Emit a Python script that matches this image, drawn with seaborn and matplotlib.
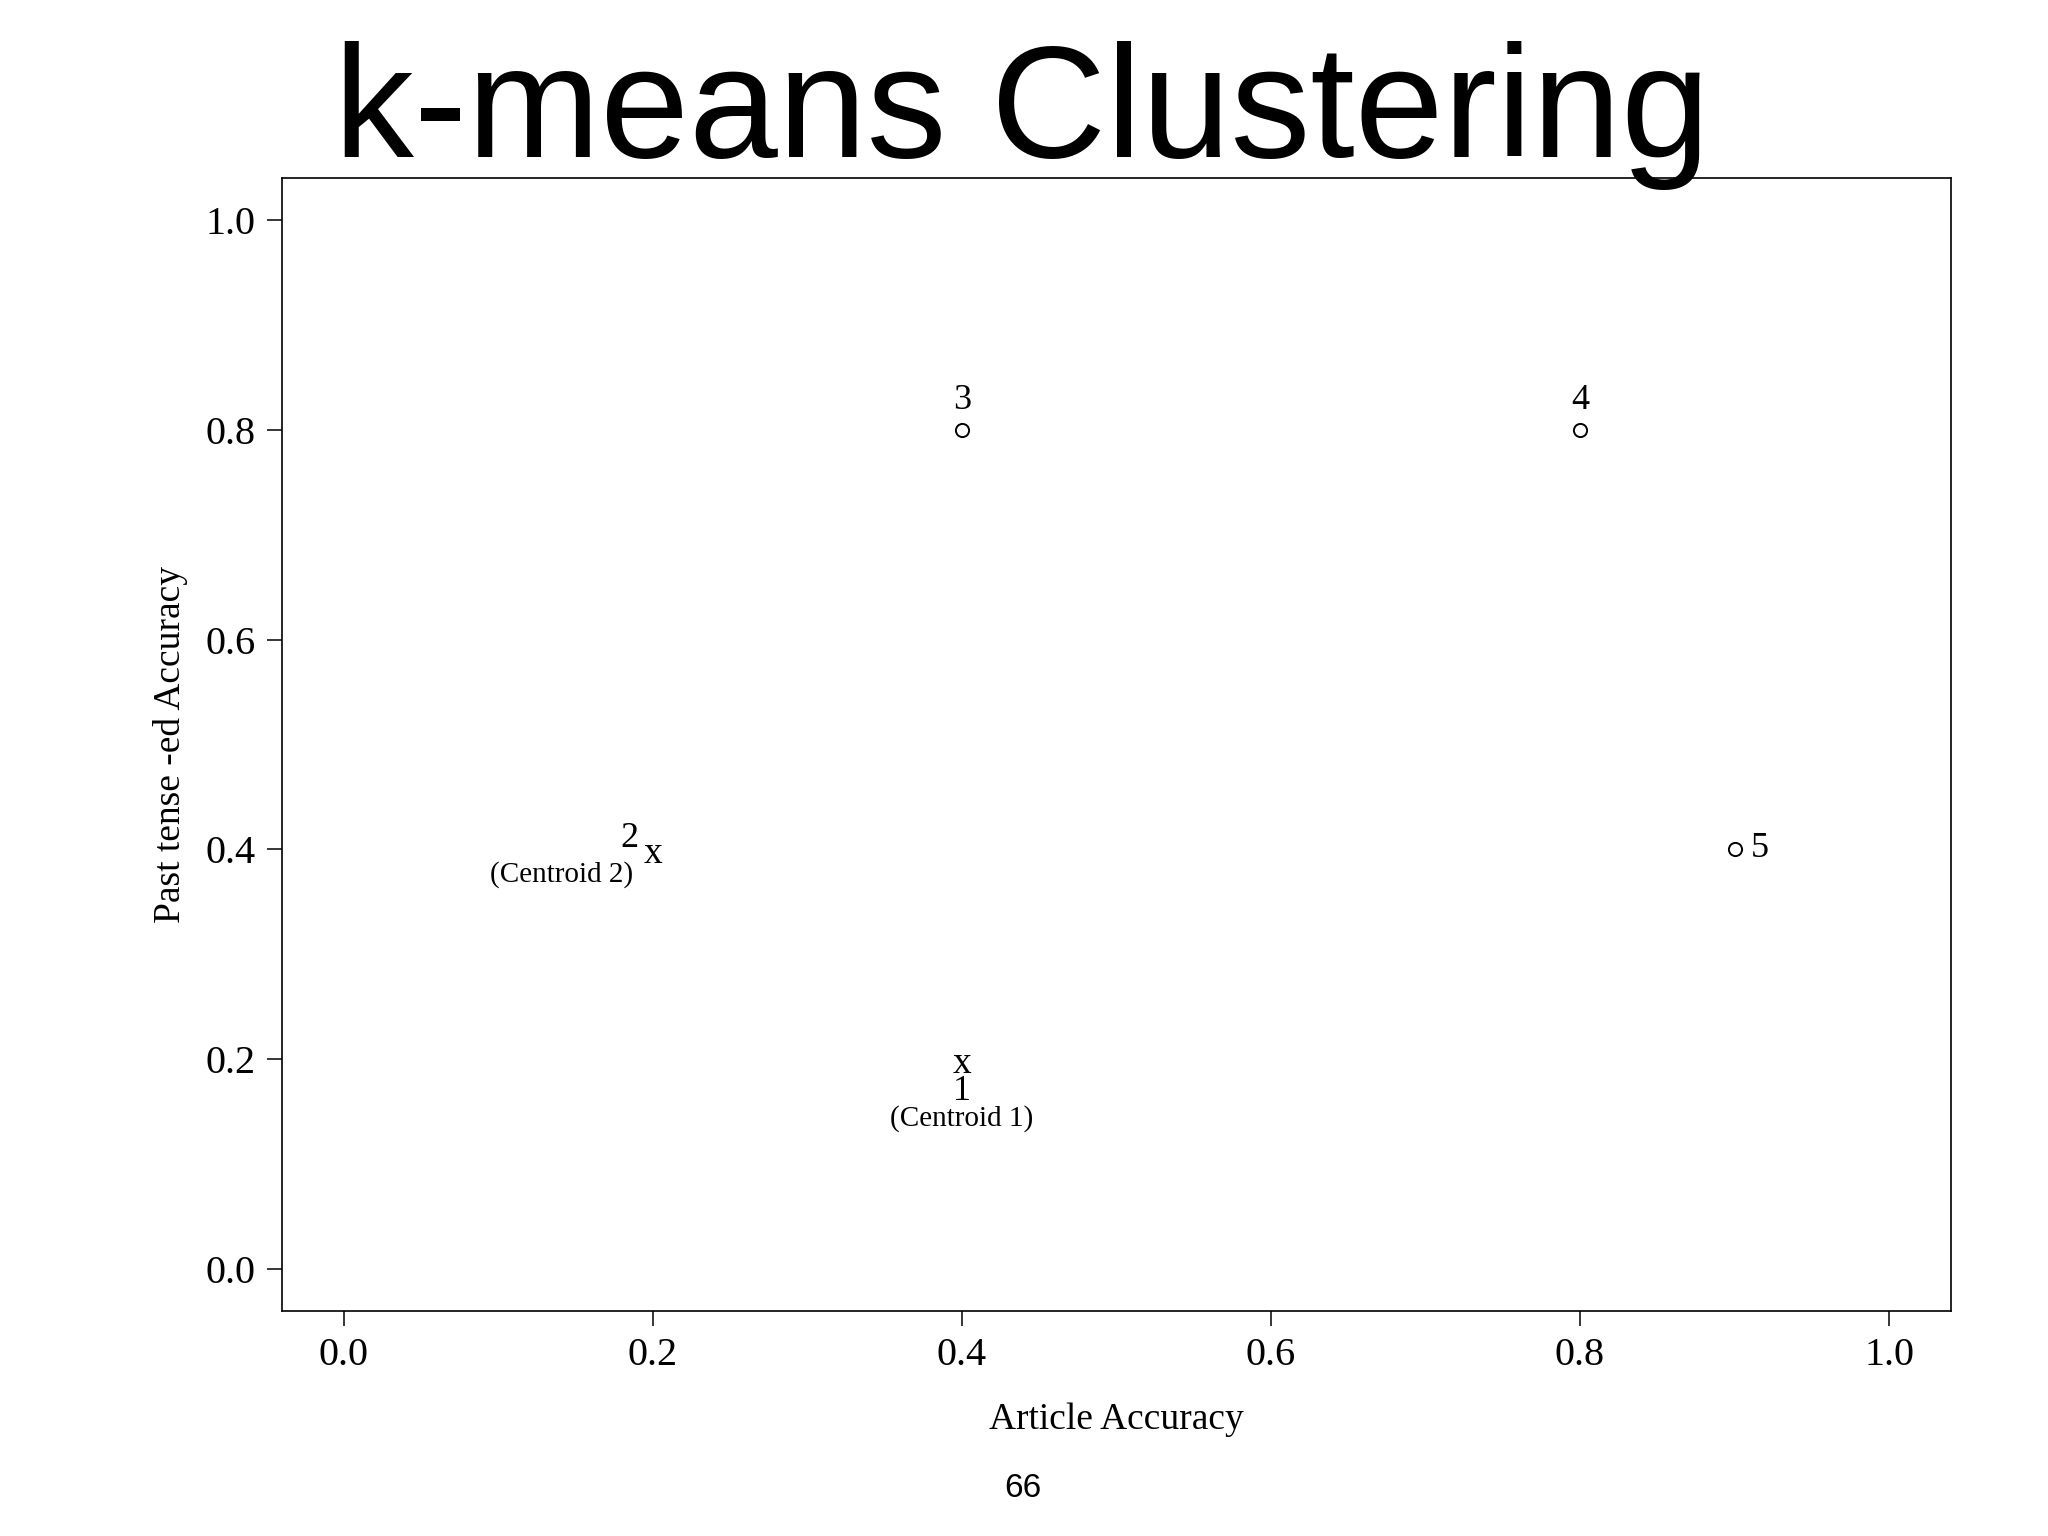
import matplotlib
matplotlib.use('Agg')
import matplotlib.pyplot as plt
import seaborn as sns

# data points (only 3, 4, 5 show an open circle; 1 and 2 sit under the centroids)
point_labels = ['1', '2', '3', '4', '5']
point_x = [0.4, 0.2, 0.4, 0.8, 0.9]
point_y = [0.2, 0.4, 0.8, 0.8, 0.4]
point_shown = [False, False, True, True, True]

centroid_labels = ['(Centroid 1)', '(Centroid 2)']
centroid_x = [0.4, 0.2]
centroid_y = [0.2, 0.4]

ticks = [0.0, 0.2, 0.4, 0.6, 0.8, 1.0]

sns.set_theme(style='white')
plt.rcParams['font.family'] = ['Liberation Serif', 'DejaVu Serif']
plt.rcParams['text.color'] = 'black'
plt.rcParams['axes.labelcolor'] = 'black'

fig = plt.figure(figsize=(20.48, 15.36), dpi=100)
ax = fig.add_axes([0.1377, 0.1465, 0.8149, 0.7375])

# open circles for visible points
shown_x = [x for x, s in zip(point_x, point_shown) if s]
shown_y = [y for y, s in zip(point_y, point_shown) if s]
sns.scatterplot(x=shown_x, y=shown_y, ax=ax, s=90, marker='o',
                facecolor='white', edgecolor='black', linewidth=1.4, zorder=3)

# point labels: offsets in points relative to the data point
label_offsets = {'1': (0, -23), '2': (-17, 8), '3': (0, 21), '4': (0, 21), '5': (18, 1)}
for lab, x, y in zip(point_labels, point_x, point_y):
    ax.annotate(lab, (x, y), xytext=label_offsets[lab], textcoords='offset points',
                ha='center', va='center', fontsize=26)

# centroids drawn as "x" with their captions
caption_offsets = [(0, -43), (-66, -18)]
for lab, x, y, off in zip(centroid_labels, centroid_x, centroid_y, caption_offsets):
    ax.annotate('x', (x, y), xytext=(0, -3), textcoords='offset points',
                ha='center', va='center', fontsize=27)
    ax.annotate(lab, (x, y), xytext=off, textcoords='offset points',
                ha='center', va='center', fontsize=21)

ax.set_xlim(-0.04, 1.04)
ax.set_ylim(-0.04, 1.04)
ax.set_xticks(ticks)
ax.set_yticks(ticks)
ax.set_xticklabels([f'{t:.1f}' for t in ticks])
ax.set_yticklabels([f'{t:.1f}' for t in ticks])
ax.tick_params(axis='both', direction='out', length=11, width=1.1,
               color='black', labelsize=29, labelcolor='black', pad=8,
               bottom=True, left=True)
for sp in ax.spines.values():
    sp.set_color('black')
    sp.set_linewidth(1.2)

ax.set_xlabel('Article Accuracy', fontsize=27, va='center')
ax.set_ylabel('Past tense -ed Accuracy', fontsize=27, va='center')
ax.xaxis.set_label_coords(0.5, -0.096)
ax.yaxis.set_label_coords(-0.067, 0.5)

fig.text(0.499, 0.898, 'k-means Clustering', fontsize=115, ha='center',
         va='baseline', family=['Liberation Sans', 'DejaVu Sans'])
fig.text(0.4994, 0.031, '66', fontsize=24, ha='center', va='center',
         family=['Liberation Sans', 'DejaVu Sans'])

fig.savefig('out.png', dpi=100, facecolor='white')
plt.close(fig)
